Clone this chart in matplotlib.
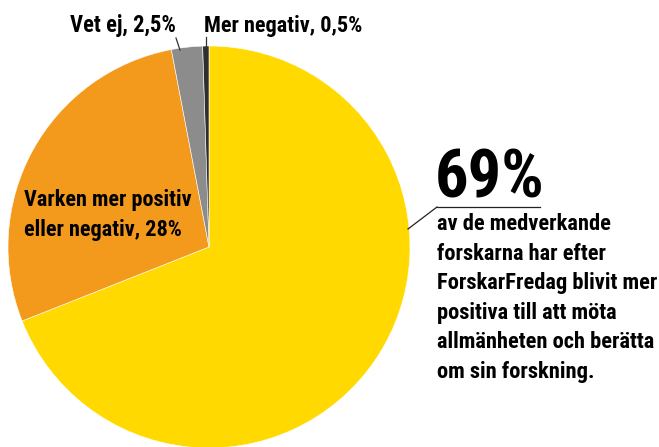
import matplotlib
matplotlib.use("Agg")
import matplotlib.pyplot as plt
from matplotlib import font_manager

# data
labels = ["Mer positiv", "Varken mer positiv\neller negativ", "Vet ej", "Mer negativ"]
values = [69, 28, 2.5, 0.5]
colors = ["#FFD900", "#F39A1D", "#8C8C8C", "#2E2E2E"]
body = ["av de medverkande", "forskarna har efter", "ForskarFredag blivit mer",
        "positiva till att möta", "allmänheten och berätta", "om sin forskning."]

names = {f.name for f in font_manager.fontManager.ttflist}
cands = ["Roboto Condensed", "Liberation Sans Narrow", "DejaVu Sans Condensed",
         "Open Sans Condensed", "Noto Sans Condensed", "DejaVu Sans"]
fam = [c for c in cands if c in names][0]
plt.rcParams['font.family'] = [fam, 'DejaVu Sans']
plt.rcParams['font.weight'] = 'bold'

W, H = 659, 447
fig = plt.figure(figsize=(W / 100, H / 100), dpi=100)
ax = fig.add_axes([0, 0, 1, 1])

cx, cy, r = 209, H - 247, 201
ax.pie(values, colors=colors, startangle=90, counterclock=False,
       center=(cx, cy), radius=r, frame=True,
       wedgeprops=dict(edgecolor='white', linewidth=0.4))
ax.set_xlim(0, W)
ax.set_ylim(0, H)
ax.set_aspect('equal')
ax.axis('off')

def y(v):
    return H - v

def pct(v):
    return str(v).replace('.', ',') + "%"

ax.text(70, y(32), "%s, %s" % (labels[2], pct(values[2])),
        fontsize=16.3, va='baseline', ha='left')
ax.plot([176, 180], [y(38), y(50)], color='#333333', lw=0.9)
ax.text(204, y(32), "%s, %s" % (labels[3], pct(values[3])),
        fontsize=16, va='baseline', ha='left')
ax.plot([206, 206], [y(37), y(48)], color='#333333', lw=0.9)

l1, l2 = labels[1].split('\n')
ax.text(24, y(206), l1, fontsize=16, va='baseline')
ax.text(24, y(236), l2 + ", " + pct(values[1]), fontsize=16, va='baseline')

ax.text(435, y(197), pct(values[0]), fontsize=48, va='baseline', ha='left')
ax.plot([437, 540], [y(207), y(207)], color='#222222', lw=0.9)
ax.plot([437, 408], [y(207), y(229)], color='#222222', lw=0.9)

for i, line in enumerate(body):
    ax.text(437, y(230 + 29.6 * i), line, fontsize=16.2, va='baseline', ha='left')

fig.savefig("out.png", dpi=100)
